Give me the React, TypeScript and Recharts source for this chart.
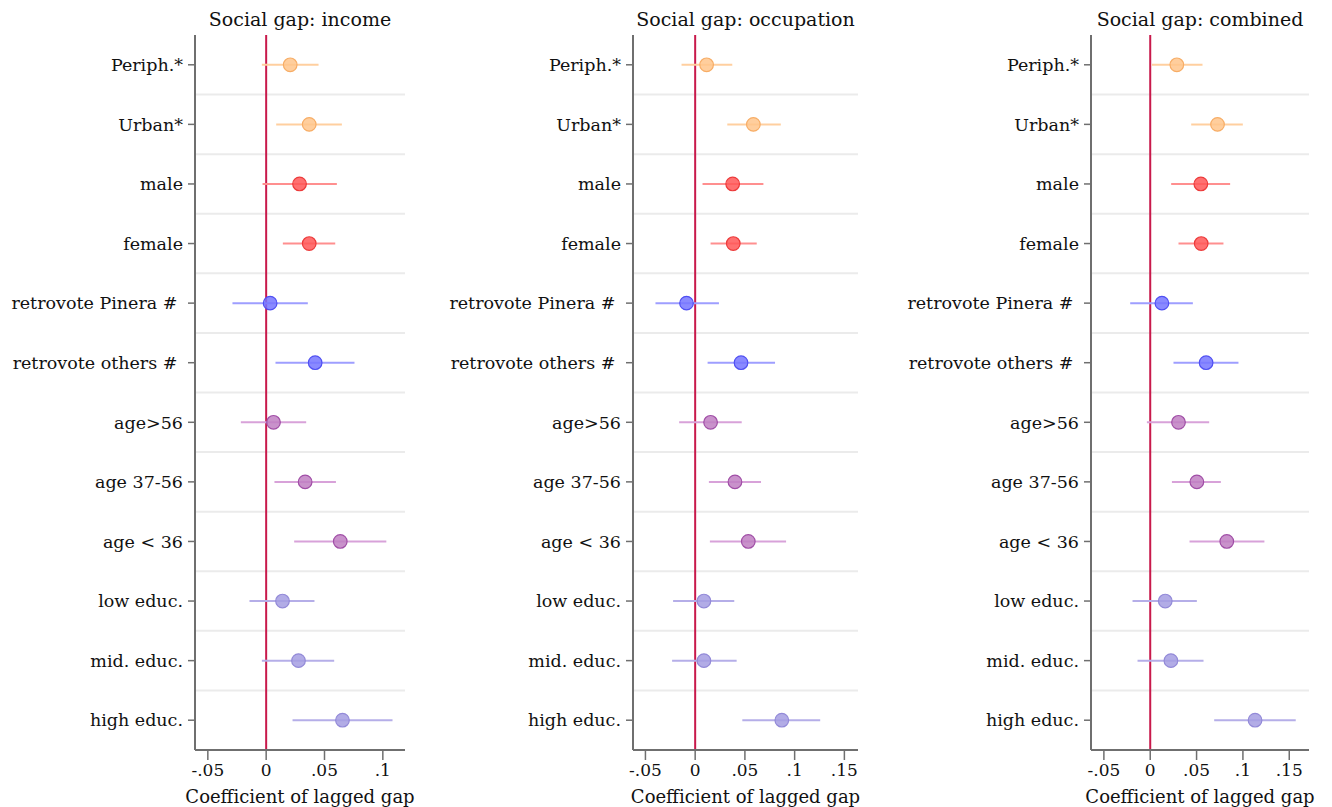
import React from 'react';
import {
  ScatterChart,
  Scatter,
  XAxis,
  YAxis,
  ErrorBar,
  ReferenceLine,
} from 'recharts';

// row labels, top to bottom
const labels = [
  'Periph.*',
  'Urban*',
  'male',
  'female',
  'retrovote Pinera #\u00A0',
  'retrovote others #\u00A0',
  'age>56',
  'age 37-56',
  'age < 36',
  'low educ.',
  'mid. educ.',
  'high educ.',
];

// colour group of each row
const rowGroup = [0, 0, 1, 1, 2, 2, 3, 3, 3, 4, 4, 4];

const groupColors = [
  { fill: '#ffc68c', stroke: '#f7ad66', ci: '#ffcf9f' },
  { fill: '#ff5757', stroke: '#ec3a3a', ci: '#ff8f8f' },
  { fill: '#7676ff', stroke: '#4f4ff2', ci: '#9e9eff' },
  { fill: '#bf7fc2', stroke: '#a04ea6', ci: '#d8a2d9' },
  { fill: '#a59ee2', stroke: '#938ad8', ci: '#b5aee8' },
];

// income
const incomeCoef = [0.0206, 0.0369, 0.0286, 0.0369, 0.0034, 0.042, 0.0063, 0.0334, 0.0635, 0.014, 0.0277, 0.0654];
const incomeLo = [-0.0037, 0.0086, -0.0031, 0.0143, -0.0289, 0.008, -0.0217, 0.0071, 0.024, -0.0143, -0.0037, 0.0226];
const incomeHi = [0.0449, 0.0649, 0.0606, 0.0592, 0.0357, 0.0757, 0.0343, 0.0598, 0.103, 0.0414, 0.0583, 0.1083];

// occupation
const occCoef = [0.0115, 0.0585, 0.0377, 0.0383, -0.0087, 0.0461, 0.0155, 0.04, 0.0534, 0.0088, 0.0088, 0.0871];
const occLo = [-0.0137, 0.0323, 0.0074, 0.0155, -0.0399, 0.0125, -0.0161, 0.0138, 0.0148, -0.0222, -0.0232, 0.0474];
const occHi = [0.0373, 0.0861, 0.0686, 0.0619, 0.0239, 0.0803, 0.0468, 0.0662, 0.0914, 0.0393, 0.0417, 0.1257];

// combined
const combCoef = [0.0287, 0.0726, 0.0546, 0.055, 0.0126, 0.0603, 0.0305, 0.0503, 0.0826, 0.0162, 0.0223, 0.1131];
const combLo = [0.0018, 0.0442, 0.0226, 0.0305, -0.0216, 0.0251, -0.0036, 0.0234, 0.0424, -0.0191, -0.0137, 0.069];
const combHi = [0.0564, 0.0999, 0.0862, 0.079, 0.046, 0.0952, 0.0636, 0.0762, 0.1232, 0.0503, 0.0575, 0.157];

const FONT = "'DejaVu Serif', serif";
const AXIS = '#6f6f6f';

const fmtTick = (v: number) => {
  if (v === 0) return '0';
  return (v < 0 ? '-' : '') + String(Math.abs(v)).replace(/^0/, '');
};

const buildRows = (coef: number[], lo: number[], hi: number[]) =>
  labels.map((label, i) => ({
    row: i,
    label,
    group: rowGroup[i],
    coef: coef[i],
    ci: [coef[i] - lo[i], hi[i] - coef[i]],
  }));

interface PanelProps {
  title: string;
  left: number;
  width: number;
  axisWidth: number;
  rightMargin: number;
  domain: [number, number];
  ticks: number[];
  coef: number[];
  lo: number[];
  hi: number[];
}

const Panel: React.FC<PanelProps> = ({
  title, left, width, axisWidth, rightMargin, domain, ticks, coef, lo, hi,
}) => {
  const rows = buildRows(coef, lo, hi);
  const plotCenter = axisWidth + (width - axisWidth - rightMargin) / 2;

  return (
    <div style={{ position: 'absolute', left, top: 0, width, height: 807 }}>
      <div
        style={{
          position: 'absolute',
          top: 6,
          left: plotCenter - 150,
          width: 300,
          textAlign: 'center',
          fontFamily: FONT,
          fontSize: 19,
          lineHeight: '26px',
          color: '#111',
        }}
      >
        {title}
      </div>
      <ScatterChart
        width={width}
        height={807}
        margin={{ top: 35, right: rightMargin, bottom: 0, left: 0 }}
      >
        <XAxis
          type="number"
          dataKey="coef"
          domain={domain}
          ticks={ticks}
          tickFormatter={fmtTick}
          allowDataOverflow
          height={57}
          tickSize={10}
          tickMargin={4}
          axisLine={{ stroke: AXIS, strokeWidth: 2 }}
          tickLine={{ stroke: AXIS, strokeWidth: 1.5 }}
          tick={{ fill: '#111', fontFamily: FONT, fontSize: 17 }}
          label={{
            value: 'Coefficient of lagged gap',
            position: 'insideBottom',
            offset: 4,
            fill: '#111',
            fontFamily: FONT,
            fontSize: 18,
          }}
        />
        <YAxis
          type="number"
          dataKey="row"
          domain={[-0.5, labels.length - 0.5]}
          ticks={labels.map((_, i) => i)}
          tickFormatter={(v: number) => labels[v] ?? ''}
          reversed
          interval={0}
          width={axisWidth}
          tickSize={7}
          tickMargin={5}
          axisLine={{ stroke: AXIS, strokeWidth: 2 }}
          tickLine={{ stroke: AXIS, strokeWidth: 1.5 }}
          tick={{ fill: '#111', fontFamily: FONT, fontSize: 17.5 }}
        />
        {labels.slice(1).map((_, i) => (
          <ReferenceLine key={`sep-${i}`} y={i + 0.5} stroke="#ebebeb" strokeWidth={2} />
        ))}
        <ReferenceLine x={0} stroke="#c8194b" strokeWidth={2} />
        {groupColors.map((c, g) => (
          <Scatter
            key={`grp-${g}`}
            data={rows.filter((r) => r.group === g)}
            isAnimationActive={false}
            shape={(p: any) => (
              <circle
                cx={p.cx}
                cy={p.cy}
                r={6.8}
                fill={c.fill}
                fillOpacity={0.85}
                stroke={c.stroke}
                strokeWidth={1.2}
              />
            )}
          >
            <ErrorBar
              dataKey="ci"
              direction="x"
              width={0}
              stroke={c.ci}
              strokeWidth={2}
              isAnimationActive={false}
            />
          </Scatter>
        ))}
      </ScatterChart>
    </div>
  );
};

export default function App() {
  return (
    <div style={{ position: 'absolute', left: 0, top: 0, width: 1332, height: 807, background: '#fff' }}>
      <Panel
        title="Social gap: income"
        left={0}
        width={420}
        axisWidth={195}
        rightMargin={15}
        domain={[-0.061, 0.119]}
        ticks={[-0.05, 0, 0.05, 0.1]}
        coef={incomeCoef}
        lo={incomeLo}
        hi={incomeHi}
      />
      <Panel
        title="Social gap: occupation"
        left={420}
        width={452}
        axisWidth={213}
        rightMargin={14}
        domain={[-0.0625, 0.1637]}
        ticks={[-0.05, 0, 0.05, 0.1, 0.15]}
        coef={occCoef}
        lo={occLo}
        hi={occHi}
      />
      <Panel
        title="Social gap: combined"
        left={880}
        width={452}
        axisWidth={211}
        rightMargin={23}
        domain={[-0.0639, 0.1713]}
        ticks={[-0.05, 0, 0.05, 0.1, 0.15]}
        coef={combCoef}
        lo={combLo}
        hi={combHi}
      />
    </div>
  );
}
